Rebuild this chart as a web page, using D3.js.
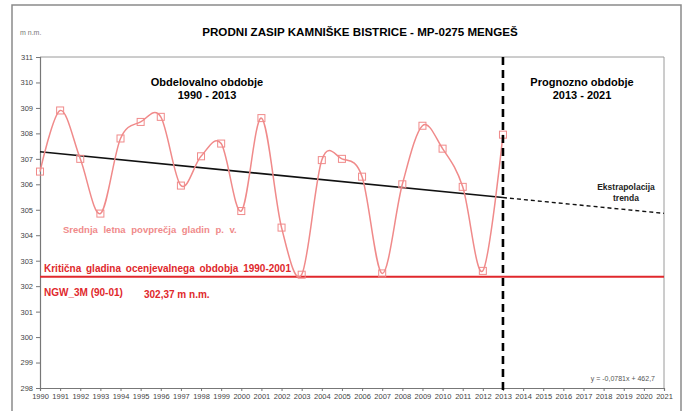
<!DOCTYPE html>
<html><head><meta charset="utf-8">
<script src="https://cdn.jsdelivr.net/npm/d3@7"></script>
<style>body{margin:0;background:#fff}svg{display:block}text{font-family:"Liberation Sans",Arial,sans-serif}</style>
</head><body><svg id="c" width="687" height="411"></svg>
<script>
const years = [1990,1991,1992,1993,1994,1995,1996,1997,1998,1999,2000,2001,2002,2003,2004,2005,2006,2007,2008,2009,2010,2011,2012,2013];
const levels = [306.5,308.9,307.0,304.85,307.8,308.45,308.65,305.95,307.1,307.6,304.95,308.6,304.3,302.45,306.95,307.0,306.3,302.5,306.0,308.3,307.4,305.9,302.6,307.95];
const trendYears = [1990,2013];
const trendValues = [307.28,305.48];
const extrapYears = [2013,2021];
const extrapValues = [305.48,304.86];
const criticalLevel = 302.37;
const xTicks = d3.range(1990,2022);
const yTicks = [298,299,300,301,302,303,304,305,306,307,308,309,310,311];

const svg = d3.select("#c");
const L=40,R=664,T=57,B=388;
const x = d3.scaleLinear().domain([1990,2021]).range([L,R]);
const y = d3.scaleLinear().domain([298,311]).range([B,T]);

// outer frame
svg.append("path").attr("d","M12,411V5H681V411").attr("fill","none").attr("stroke","#8a8a8a").attr("stroke-width",1.5);
// plot border
svg.append("path").attr("d",`M${L},${T}H${R}V${B}`).attr("fill","none").attr("stroke","#9a9a9a").attr("stroke-width",1);

// axes
const yAxis = svg.append("g").attr("transform",`translate(${L},0)`)
  .call(d3.axisLeft(y).tickValues(yTicks).tickSize(4).tickPadding(3).tickFormat(d3.format("d")));
const xAxis = svg.append("g").attr("transform",`translate(0,${B})`)
  .call(d3.axisBottom(x).tickValues(xTicks).tickSize(3).tickPadding(3).tickFormat(d3.format("d")));
[yAxis,xAxis].forEach(g=>{
  g.select(".domain").attr("stroke","#777").attr("stroke-width",1.2);
  g.selectAll(".tick line").attr("stroke","#777");
  g.selectAll("text").attr("fill","#444").style("font-size","7.5px").style("font-family","Liberation Sans, Arial, sans-serif");
});

// critical line
svg.append("line").attr("x1",L).attr("x2",R).attr("y1",y(criticalLevel)).attr("y2",y(criticalLevel))
  .attr("stroke","#e0282c").attr("stroke-width",1.8);

// trend
const ln = d3.line().x(d=>x(d[0])).y(d=>y(d[1]));
svg.append("path").attr("d",ln(trendYears.map((d,i)=>[d,trendValues[i]])))
  .attr("fill","none").attr("stroke","#111").attr("stroke-width",1.6);
svg.append("path").attr("d",ln(extrapYears.map((d,i)=>[d,extrapValues[i]])))
  .attr("fill","none").attr("stroke","#111").attr("stroke-width",1.4).attr("stroke-dasharray","4,3");

// series
const red="#f08a8a";
const sm = d3.line().curve(d3.curveCardinal.tension(0)).x(d=>x(d[0])).y(d=>y(d[1]));
const pts = years.map((d,i)=>[d,levels[i]]);
svg.append("path").attr("d",sm(pts)).attr("fill","none").attr("stroke",red).attr("stroke-width",1.5);
svg.selectAll("rect.m").data(pts).join("rect").attr("class","m")
  .attr("x",d=>x(d[0])-3.5).attr("y",d=>y(d[1])-3.5).attr("width",7).attr("height",7)
  .attr("fill","none").attr("stroke",red).attr("stroke-width",1);

// divider
svg.append("line").attr("x1",x(2013)).attr("x2",x(2013)).attr("y1",T).attr("y2",B+4)
  .attr("stroke","#000").attr("stroke-width",2.6).attr("stroke-dasharray","8,5");

// texts
function t(txt,xx,yy,opt={}){
  return svg.append("text").attr("x",xx).attr("y",yy).text(txt)
    .attr("text-anchor",opt.a||"start").attr("fill",opt.c||"#000")
    .style("font-size",(opt.s||11)+"px").style("font-weight",opt.w||"bold");
}
t("PRODNI ZASIP KAMNIŠKE BISTRICE - MP-0275 MENGEŠ",360,36,{a:"middle",s:11.6});
t("m n.m.",20,35,{s:7,w:"normal",c:"#777"});
t("Obdelovalno obdobje",207,86,{a:"middle",s:11});
t("1990 - 2013",207,99,{a:"middle",s:11});
t("Prognozno obdobje",582,86,{a:"middle",s:11});
t("2013 - 2021",582,99,{a:"middle",s:11});
t("Ekstrapolacija",626,190,{a:"middle",s:8.5,c:"#222"});
t("trenda",626,201,{a:"middle",s:8.5,c:"#222"});
t("Srednja letna povprečja gladin p. v.",63,233,{s:9.5,c:"#f08a8a"}).style("word-spacing","3px");
t("Kritična gladina ocenjevalnega obdobja 1990-2001",44,272,{s:10,c:"#e0282c"}).style("word-spacing","2px");
t("NGW_3M (90-01)",44,296,{s:10,c:"#e0282c"});
t("302,37 m n.m.",144,298,{s:10,c:"#e0282c"});
t("y = -0,0781x + 462,7",655,381,{a:"end",s:7,w:"normal",c:"#555"});
</script></body></html>
